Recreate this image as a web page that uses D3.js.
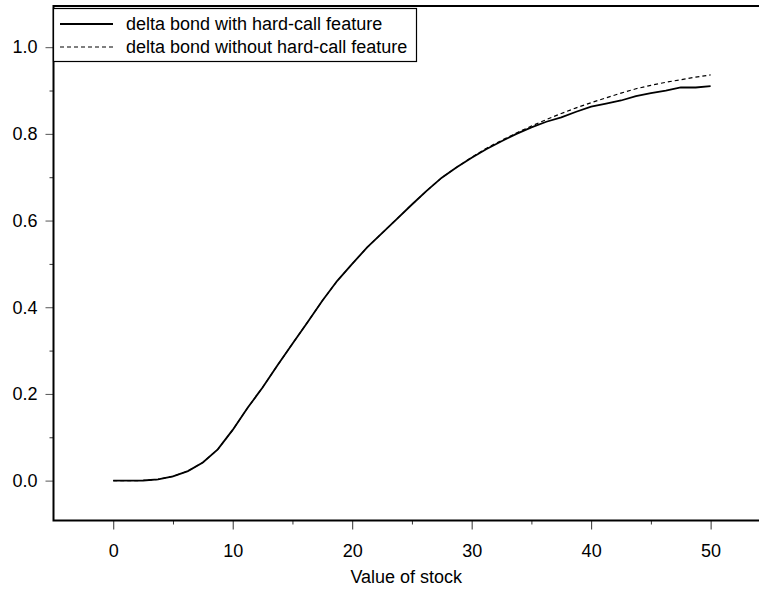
<!DOCTYPE html>
<html>
<head>
<meta charset="utf-8">
<script src="https://cdn.jsdelivr.net/npm/d3@7"></script>
<style>
  body { margin: 0; background: #fff; }
  text { font-family: "Liberation Sans", Arial, sans-serif; }
</style>
</head>
<body>
<svg id="chart" width="759" height="589"></svg>
<script>
// stock values (step 1.25)
var stockValues = [0, 1.25, 2.5, 3.75, 5, 6.25, 7.5, 8.75, 10, 11.25, 12.5, 13.75, 15, 16.25, 17.5, 18.75,
  20, 21.25, 22.5, 23.75, 25, 26.25, 27.5, 28.75, 30, 31.25, 32.5, 33.75, 35, 36.25, 37.5, 38.75,
  40, 41.25, 42.5, 43.75, 45, 46.25, 47.5, 48.75, 50];

// delta bond with hard-call feature
var deltaWithCall = [0, 0, 0.0003, 0.003, 0.010, 0.022, 0.042, 0.072, 0.117, 0.168, 0.215, 0.266, 0.316, 0.365, 0.415, 0.461,
  0.500, 0.538, 0.571, 0.604, 0.637, 0.669, 0.699, 0.723, 0.745, 0.765, 0.783, 0.800, 0.815, 0.828, 0.838, 0.851,
  0.863, 0.870, 0.877, 0.887, 0.894, 0.900, 0.907, 0.907, 0.910];

// delta bond without hard-call feature
var deltaNoCall = [0, 0, 0.0003, 0.003, 0.010, 0.022, 0.042, 0.072, 0.117, 0.168, 0.215, 0.266, 0.316, 0.365, 0.415, 0.461,
  0.500, 0.538, 0.571, 0.604, 0.637, 0.669, 0.699, 0.723, 0.746, 0.767, 0.785, 0.802, 0.818, 0.833, 0.847, 0.860,
  0.872, 0.883, 0.894, 0.904, 0.912, 0.919, 0.925, 0.931, 0.936];

var xTicks = [0, 10, 20, 30, 40, 50];
var xMinor = [5, 15, 25, 35, 45];
var yTicks = [0, 0.2, 0.4, 0.6, 0.8, 1.0];
var yMinor = [0.1, 0.3, 0.5, 0.7, 0.9];
var legendLabels = ["delta bond with hard-call feature", "delta bond without hard-call feature"];

// plot frame edges ("top" is taken by window.top, so prefix them)
var pLeft = 53.5, pRight = 759, pTop = 6, pBottom = 520.5;
var fontSize = 18;

var svg = d3.select("#chart");

var x = d3.scaleLinear().domain([-5, 54.05]).range([pLeft, pRight]);
var y = d3.scaleLinear().domain([-0.092, 1.095]).range([pBottom, pTop]);

// x axis
var xAxis = svg.append("g").attr("transform", "translate(0," + pBottom + ")")
  .call(d3.axisBottom(x).tickValues(xTicks).tickSize(9).tickPadding(15).tickFormat(d3.format("d")));
xAxis.select(".domain").remove();
xAxis.selectAll("line").attr("stroke", "#333");
xAxis.selectAll("text").attr("font-size", fontSize).attr("fill", "#000")
  .attr("font-family", "Liberation Sans, Arial, sans-serif");

var xMin = svg.append("g").attr("transform", "translate(0," + pBottom + ")")
  .call(d3.axisBottom(x).tickValues(xMinor).tickSize(4).tickFormat(""));
xMin.select(".domain").remove();
xMin.selectAll("line").attr("stroke", "#333");

// y axis
var yAxis = svg.append("g").attr("transform", "translate(" + pLeft + ",0)")
  .call(d3.axisLeft(y).tickValues(yTicks).tickSize(8).tickPadding(8).tickFormat(d3.format(".1f")));
yAxis.select(".domain").remove();
yAxis.selectAll("line").attr("stroke", "#555");
yAxis.selectAll("text").attr("font-size", fontSize).attr("fill", "#000")
  .attr("font-family", "Liberation Sans, Arial, sans-serif");

var yMin = svg.append("g").attr("transform", "translate(" + pLeft + ",0)")
  .call(d3.axisLeft(y).tickValues(yMinor).tickSize(4).tickFormat(""));
yMin.select(".domain").remove();
yMin.selectAll("line").attr("stroke", "#333");

// frame (left, top, bottom)
svg.append("path")
  .attr("d", "M" + (pRight + 5) + "," + pTop + "H" + pLeft + "V" + pBottom + "H" + (pRight + 5))
  .attr("fill", "none").attr("stroke", "#000").attr("stroke-width", 2);

var line = d3.line().x(function(d) { return x(d[0]); }).y(function(d) { return y(d[1]); });

svg.append("path")
  .datum(d3.zip(stockValues, deltaNoCall))
  .attr("d", line)
  .attr("fill", "none").attr("stroke", "#000").attr("stroke-width", 1.2)
  .attr("stroke-dasharray", "4,3");

svg.append("path")
  .datum(d3.zip(stockValues, deltaWithCall))
  .attr("d", line)
  .attr("fill", "none").attr("stroke", "#000").attr("stroke-width", 1.8);

// legend
var lg = svg.append("g");
lg.append("rect").attr("x", 53.5).attr("y", 8.5).attr("width", 363).attr("height", 53)
  .attr("fill", "#fff").attr("stroke", "#000").attr("stroke-width", 1.2);
lg.append("line").attr("x1", 60).attr("x2", 113).attr("y1", 24).attr("y2", 24)
  .attr("stroke", "#000").attr("stroke-width", 2);
lg.append("line").attr("x1", 60).attr("x2", 113).attr("y1", 47).attr("y2", 47)
  .attr("stroke", "#000").attr("stroke-width", 1.2).attr("stroke-dasharray", "4,3");
lg.selectAll("text.lab").data(legendLabels).enter().append("text")
  .attr("x", 126).attr("y", function(d, i) { return 30 + i * 23; })
  .attr("font-size", fontSize).text(function(d) { return d; });

// axis title
svg.append("text").attr("x", (pLeft + pRight) / 2).attr("y", 583)
  .attr("text-anchor", "middle").attr("font-size", fontSize).text("Value of stock");
</script>
</body>
</html>
